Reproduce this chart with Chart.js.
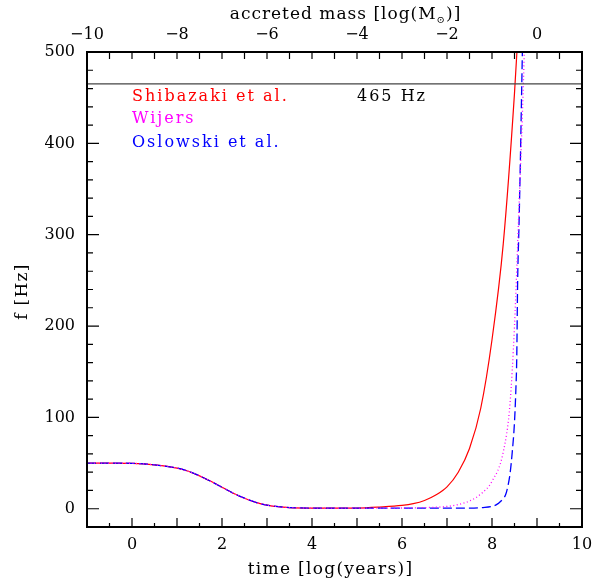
<!DOCTYPE html>
<html>
<head>
<meta charset="utf-8">
<script src="https://cdn.jsdelivr.net/npm/chart.js@4"></script>
<style>
  html, body { margin: 0; padding: 0; background: #fff; }
  #wrap { width: 592px; height: 586px; }
</style>
</head>
<body>
<div id="wrap"><canvas id="spinChart"></canvas></div>
<script>
// shared early part of the spin-up curve (all three models coincide)
const baseTime = [-1, -0.5, 0, 0.5, 1, 1.25, 1.5, 1.75, 2, 2.25, 2.5, 2.75, 3, 3.25, 3.5, 4, 4.5, 5];
const baseF    = [50, 50, 49.7, 48, 44.5, 41, 36, 30, 23.5, 17, 11.5, 7, 4, 2.2, 1.3, 0.7, 0.6, 0.7];

// late-time behaviour of each model
const shibTime = [5.5, 6, 6.25, 6.5, 6.75, 7, 7.25, 7.5, 7.75, 8, 8.25, 8.5, 8.6];
const shibF    = [1.8, 3.6, 5.5, 9, 15, 24, 40, 66, 110, 185, 290, 455, 540];

const wijTime = [5.5, 6, 6.5, 7, 7.25, 7.5, 7.75, 8, 8.25, 8.4, 8.5, 8.6, 8.7, 8.75];
const wijF    = [0.7, 0.8, 1.2, 2.5, 4.5, 8.5, 16, 30, 62, 115, 200, 330, 470, 560];

const oslTime = [5.5, 6, 6.5, 7, 7.5, 7.8, 8, 8.1, 8.2, 8.3, 8.35, 8.4, 8.45, 8.5, 8.53, 8.55, 8.57, 8.6, 8.63, 8.66, 8.69];
const oslF    = [0.6, 0.6, 0.6, 0.6, 0.7, 1.3, 2.5, 4.5, 8.5, 15, 24, 38, 62, 95, 130, 165, 250, 310, 380, 460, 540];

const limitF = 465;
const seriesNames = ['Shibazaki et al.', 'Wijers', 'Oslowski et al.'];
const seriesColors = ['#ff0000', '#ff00ff', '#0000ff'];

const bottomTicks = [0, 2, 4, 6, 8, 10];
const topTicks = [-10, -8, -6, -4, -2, 0];
const yTicks = [0, 100, 200, 300, 400, 500];

const serif = 'DejaVu Serif';

function toPoints(t1, f1, t2, f2) {
    const pts = [];
    t1.forEach((t, i) => pts.push({ x: t, y: f1[i] }));
    t2.forEach((t, i) => pts.push({ x: t, y: f2[i] }));
    return pts;
}

const framePlugin = {
    id: 'frame',
    afterDraw(chart) {
        const { ctx, chartArea: a, scales } = chart;
        const x = scales.x, x2 = scales.x2, y = scales.y;
        ctx.save();
        ctx.strokeStyle = '#000';
        ctx.lineWidth = 1.2;
        ctx.beginPath();
        // bottom axis: every 0.5, longer at integers
        for (let i = -2; i <= 20; i++) {
            const px = x.getPixelForValue(i / 2);
            const len = i % 2 === 0 ? 9 : 4;
            ctx.moveTo(px, a.bottom);
            ctx.lineTo(px, a.bottom - len);
        }
        // top axis
        for (let i = -20; i <= 2; i++) {
            const px = x2.getPixelForValue(i / 2);
            ctx.moveTo(px, a.top);
            ctx.lineTo(px, a.top + 7);
        }
        // left and right: every 20, longer at hundreds
        for (let v = -20; v <= 500; v += 20) {
            const py = y.getPixelForValue(v);
            const len = v % 100 === 0 ? 12 : 6;
            ctx.moveTo(a.left, py);
            ctx.lineTo(a.left + len, py);
            ctx.moveTo(a.right, py);
            ctx.lineTo(a.right - len, py);
        }
        ctx.stroke();

        ctx.lineWidth = 2;
        ctx.strokeRect(a.left, a.top, a.right - a.left, a.bottom - a.top);

        // in-plot labels
        ctx.font = '16px "' + serif + '"';
        ctx.letterSpacing = '2px';
        ctx.textAlign = 'left';
        ctx.textBaseline = 'middle';
        const lx = x.getPixelForValue(0);
        const rows = [451, 427, 401];
        seriesNames.forEach((name, i) => {
            ctx.fillStyle = seriesColors[i];
            ctx.fillText(name, lx, y.getPixelForValue(rows[i]));
        });
        ctx.fillStyle = '#000';
        ctx.fillText(limitF + ' Hz', x.getPixelForValue(5), y.getPixelForValue(rows[0]));

        // axis titles
        const cx = (a.left + a.right) / 2;
        ctx.letterSpacing = '1.3px';
        ctx.font = '17px "' + serif + '"';
        ctx.textAlign = 'center';
        ctx.fillText('time [log(years)]', cx - 4, 570);

        ctx.save();
        ctx.translate(23, (a.top + a.bottom) / 2 + 2);
        ctx.rotate(-Math.PI / 2);
        ctx.fillText('f [Hz]', 0, 0);
        ctx.restore();

        // top title with a subscript sun symbol
        ctx.letterSpacing = '1px';
        ctx.textAlign = 'left';
        const p1 = 'accreted mass [log(M', p2 = '\u2299', p3 = ')]';
        ctx.font = '17px "' + serif + '"';
        const w1 = ctx.measureText(p1).width, w3 = ctx.measureText(p3).width;
        ctx.font = '10px "' + serif + '"';
        const w2 = ctx.measureText(p2).width;
        let tx = cx + 11 - (w1 + w2 + w3) / 2;
        ctx.font = '17px "' + serif + '"';
        ctx.fillText(p1, tx, 15);
        tx += w1;
        ctx.font = '10px "' + serif + '"';
        ctx.fillText(p2, tx, 20);
        tx += w2;
        ctx.font = '17px "' + serif + '"';
        ctx.fillText(p3, tx, 15);
        ctx.restore();
    }
};

// keep the plot box fixed: no extra room for the overhanging "10" label
function fixHorizontal(height) {
    return s => {
        s.height = height;
        s.paddingLeft = 0;
        s.paddingRight = 0;
    };
}

document.addEventListener('DOMContentLoaded', function() {
    const ctx = document.getElementById('spinChart').getContext('2d');
    new Chart(ctx, {
        type: 'line',
        data: {
            datasets: [
                {
                    label: 'limit',
                    data: [{ x: -1, y: limitF }, { x: 10, y: limitF }],
                    borderColor: '#444',
                    borderWidth: 1.3
                },
                {
                    label: seriesNames[1],
                    data: toPoints(baseTime, baseF, wijTime, wijF),
                    borderColor: seriesColors[1],
                    borderWidth: 1.3,
                    borderDash: [1, 2.5],
                    cubicInterpolationMode: 'monotone'
                },
                {
                    label: seriesNames[2],
                    data: toPoints(baseTime, baseF, oslTime, oslF),
                    borderColor: seriesColors[2],
                    borderWidth: 1.3,
                    borderDash: [9, 4],
                    cubicInterpolationMode: 'monotone'
                },
                {
                    label: seriesNames[0],
                    data: toPoints(baseTime, baseF, shibTime, shibF),
                    borderColor: seriesColors[0],
                    borderWidth: 1.2,
                    cubicInterpolationMode: 'monotone'
                }
            ]
        },
        options: {
            responsive: true,
            maintainAspectRatio: false,
            animation: false,
            elements: { point: { radius: 0 } },
            layout: { padding: { left: 0, right: 10, top: 0, bottom: 0 } },
            plugins: { legend: { display: false }, tooltip: { enabled: false } },
            scales: {
                x: {
                    type: 'linear',
                    position: 'bottom',
                    min: -1,
                    max: 10,
                    grid: { display: false, drawTicks: false },
                    border: { display: false },
                    afterBuildTicks: s => { s.ticks = bottomTicks.map(v => ({ value: v })); },
                    afterFit: fixHorizontal(59),
                    ticks: { color: '#000', padding: 8, maxRotation: 0, font: { family: serif, size: 16 } }
                },
                x2: {
                    type: 'linear',
                    position: 'top',
                    display: true,
                    min: -10,
                    max: 1,
                    grid: { display: false, drawTicks: false },
                    border: { display: false },
                    afterBuildTicks: s => { s.ticks = topTicks.map(v => ({ value: v })); },
                    afterFit: fixHorizontal(52),
                    ticks: {
                        color: '#000', padding: 8, maxRotation: 0,
                        font: { family: serif, size: 16 },
                        callback: v => (v < 0 ? '\u2212' + Math.abs(v) : String(v))
                    }
                },
                y: {
                    type: 'linear',
                    min: -20,
                    max: 500,
                    grid: { display: false, drawTicks: false },
                    border: { display: false },
                    afterBuildTicks: s => { s.ticks = yTicks.map(v => ({ value: v })); },
                    afterFit: s => { s.width = 87; s.paddingTop = 0; s.paddingBottom = 0; },
                    ticks: { color: '#000', padding: 12, font: { family: serif, size: 16 } }
                }
            }
        },
        plugins: [framePlugin]
    });
});
</script>
</body>
</html>
